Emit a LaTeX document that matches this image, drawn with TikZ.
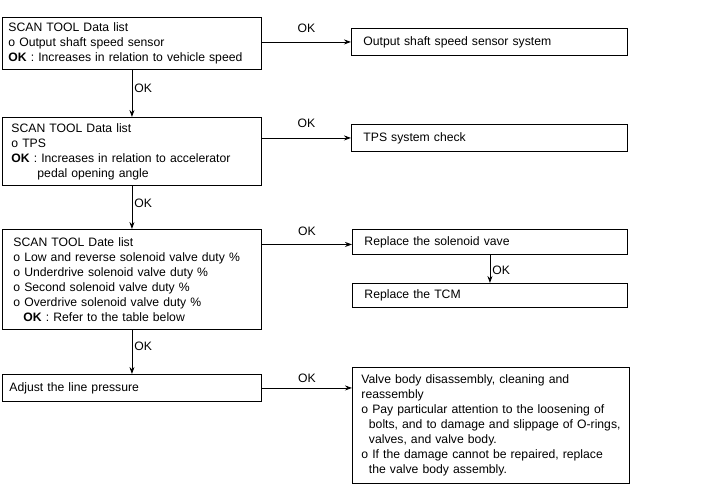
\documentclass[tikz,border=0pt]{standalone}
\usepackage{fontspec}
\setmainfont{Liberation Sans}
\usetikzlibrary{arrows.meta}
\begin{document}
\begin{tikzpicture}[x=1pt,y=-1pt,
  box/.style={draw, line width=0.9pt, rectangle, anchor=north west, align=left,
    font=\fontsize{12.2}{15}\selectfont, inner ysep=0pt},
  arr/.style={-{Stealth[length=7pt,width=5pt]}, line width=0.9pt},
  lab/.style={font=\fontsize{12.2}{14}\selectfont, inner sep=2pt}]
\useasboundingbox (0,0) rectangle (720,499);
% left column
\node[box, text width=247pt, minimum height=52pt, inner xsep=6pt] (b1) at (2,17)
  {SCAN TOOL Data list\\o Output shaft speed sensor\\\textbf{OK} : Increases in relation to vehicle speed};
\node[box, text width=241pt, minimum height=68pt, inner xsep=9pt] (b2) at (2,117)
  {SCAN TOOL Data list\\o TPS\\\textbf{OK} : Increases in relation to accelerator\\\hspace*{26pt}pedal opening angle};
\node[box, text width=237pt, minimum height=100pt, inner xsep=11pt] (b3) at (2,229)
  {SCAN TOOL Date list\\o Low and reverse solenoid valve duty \%\\o Underdrive solenoid valve duty \%\\o Second solenoid valve duty \%\\o Overdrive solenoid valve duty \%\\\hspace*{10pt}\textbf{OK} : Refer to the table below};
\node[box, text width=245pt, minimum height=27pt, inner xsep=7pt] (b4) at (2,374)
  {Adjust the line pressure};
% right column
\node[box, text width=252pt, minimum height=27pt, inner xsep=12pt] (r1) at (351,28)
  {Output shaft speed sensor system};
\node[box, text width=252pt, minimum height=27pt, inner xsep=12pt] (r2) at (351,124)
  {TPS system check};
\node[box, text width=251pt, minimum height=25pt, inner xsep=12pt] (r3) at (352,229)
  {Replace the solenoid vave};
\node[box, text width=251pt, minimum height=24pt, inner xsep=12pt] (r4) at (352,283)
  {Replace the TCM};
\node[box, text width=259pt, minimum height=116pt, inner xsep=9pt] (r5) at (352,367)
  {\mbox{Valve body disassembly, cleaning and}\\\mbox{reassembly}\\\mbox{o Pay particular attention to the loosening of}\\\mbox{\hspace*{7.5pt}bolts, and to damage and slippage of O-rings,}\\\mbox{\hspace*{7.5pt}valves, and valve body.}\\\mbox{o If the damage cannot be repaired, replace}\\\mbox{\hspace*{7.5pt}the valve body assembly.}};
% vertical arrows
\draw[arr] (b1.south) -- node[lab, pos=0.4, right] (l1) {OK} (b2.north);
\draw[arr] (b2.south) -- node[lab, pos=0.4, right] (l2) {OK} (b3.north);
\draw[arr] (b3.south) -- node[lab, pos=0.38, right] (l3) {OK} (b4.north);
\draw[arr] (r3.south) -- node[lab, pos=0.55, right] (l4) {OK} (r4.north);
% horizontal arrows
\draw[arr] (r1.west -| b1.east) -- node[lab, above, inner sep=9pt] (h1) {OK} (r1.west);
\draw[arr] (r2.west -| b2.east) -- node[lab, above, inner sep=10pt] (h2) {OK} (r2.west);
\draw[arr] ([yshift=-2.5pt]r3.west -| b3.east) -- node[lab, above, inner sep=8pt] (h3) {OK} ([yshift=-2.5pt]r3.west);
\draw[arr] (b4.east) -- node[lab, above, inner sep=5pt] (h4) {OK} (b4.east -| r5.west);
\end{tikzpicture}
\end{document}
